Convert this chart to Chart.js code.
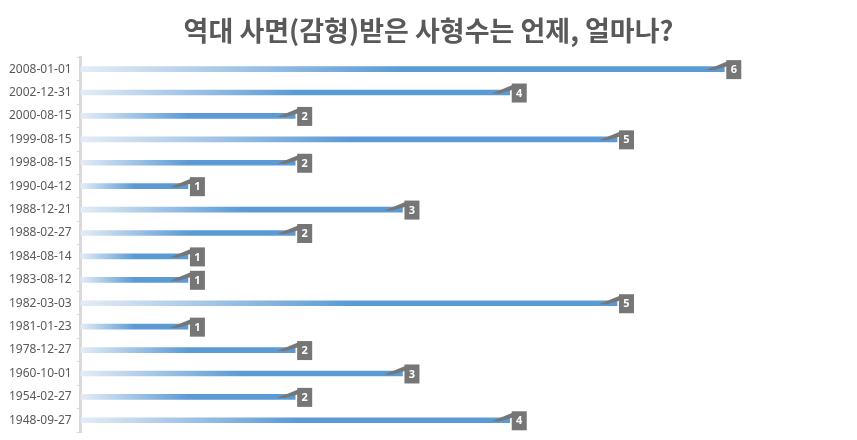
<!DOCTYPE html>
<html>
<head>
<meta charset="utf-8">
<script src="https://cdn.jsdelivr.net/npm/chart.js@4"></script>
<style>
  body { margin: 0; background: #fff; }
  #wrap { width: 857px; height: 440px; }
</style>
</head>
<body>
<div id="wrap"><canvas id="myChart"></canvas></div>
<script>
const ctx = document.getElementById('myChart')
const dates = ['2008-01-01', '2002-12-31', '2000-08-15', '1999-08-15', '1998-08-15', '1990-04-12', '1988-12-21', '1988-02-27',
  '1984-08-14', '1983-08-12', '1982-03-03', '1981-01-23', '1978-12-27', '1960-10-01', '1954-02-27', '1948-09-27']
const counts = [6, 4, 2, 5, 2, 1, 3, 2, 1, 1, 5, 1, 2, 3, 2, 4]

// light-to-blue fade along each bar
function barFill(c) {
  const chart = c.chart
  if (!chart.chartArea || c.dataIndex === undefined) return '#5b9bd5'
  const x = chart.scales.x
  const x0 = x.getPixelForValue(0)
  const x1 = x.getPixelForValue(counts[c.dataIndex])
  const g = chart.ctx.createLinearGradient(x0, 0, x1, 0)
  g.addColorStop(0, '#e4ecf6')
  g.addColorStop(0.5, '#5b9bd5')
  g.addColorStop(1, '#5b9bd5')
  return g
}

// grey callout boxes with the count
const calloutLabels = {
  id: 'calloutLabels',
  afterDatasetsDraw(chart) {
    const c = chart.ctx
    const meta = chart.getDatasetMeta(0)
    c.save()
    meta.data.forEach((bar, i) => {
      const x = bar.x, y = bar.y
      c.fillStyle = '#767676'
      c.beginPath()
      c.moveTo(x - 18, y + 1)
      c.lineTo(x + 4, y - 8)
      c.lineTo(x + 4, y - 3)
      c.lineTo(x - 10, y + 1)
      c.closePath()
      c.fill()
      c.fillRect(x + 2, y - 9, 15, 19)
      c.fillStyle = '#ffffff'
      c.font = 'bold 11px "Noto Sans"'
      c.textAlign = 'center'
      c.textBaseline = 'middle'
      c.fillText(String(counts[i]), x + 9.5, y + 1)
    })
    c.restore()
  }
}

const myChart = new Chart(ctx, {
  type: 'bar',
  data: {
    labels: dates,
    datasets: [{
      data: counts,
      backgroundColor: barFill,
      borderWidth: 0,
      barThickness: 5
    }]
  },
  options: {
    indexAxis: 'y',
    responsive: true,
    maintainAspectRatio: false,
    animation: false,
    layout: { padding: { left: 4, right: 4, top: 0, bottom: 8 } },
    plugins: {
      legend: { display: false },
      tooltip: { enabled: false },
      title: {
        display: true,
        text: '역대 사면(감형)받은 사형수는 언제, 얼마나?',
        color: '#595959',
        font: { family: '"Noto Sans CJK KR"', size: 27, weight: 'bold', lineHeight: 1.2 },
        padding: { top: 15, bottom: 10 }
      }
    },
    scales: {
      x: { display: false, min: 0, max: 7.2 },
      y: {
        border: { color: '#d9d9d9', width: 3 },
        grid: { drawOnChartArea: false, drawTicks: true, tickLength: 4, color: '#d9d9d9' },
        ticks: { color: '#595959', font: { family: '"Noto Sans"', size: 12 }, padding: 5 },
        afterFit(s) { s.paddingTop = 0; s.paddingBottom = 0 }
      }
    }
  },
  plugins: [calloutLabels]
})
</script>
</body>
</html>
